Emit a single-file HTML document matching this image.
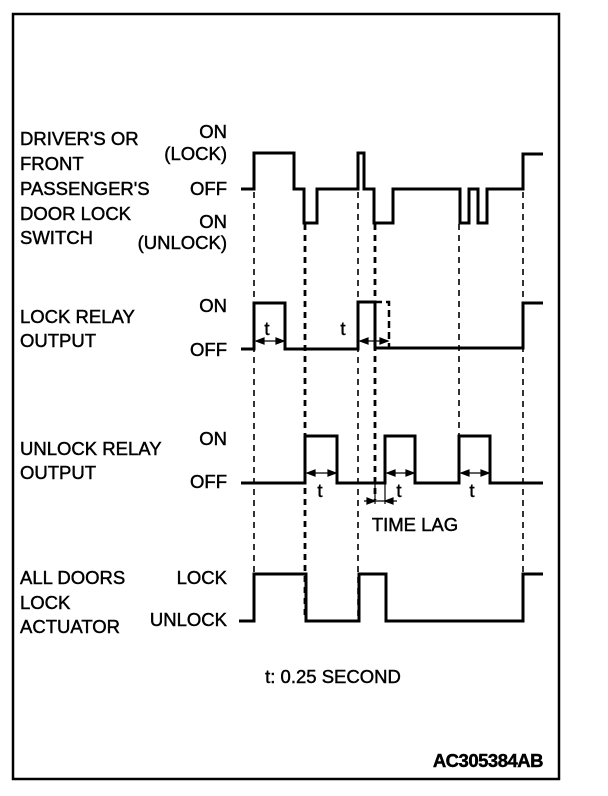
<!DOCTYPE html>
<html><head><meta charset="utf-8"><style>
html,body{margin:0;padding:0;background:#fff;}
svg{display:block;}
text{font-family:"Liberation Sans",sans-serif;font-size:18.5px;fill:#000;stroke:#000;stroke-width:0.45px;}
</style></head><body>
<svg width="608" height="796" viewBox="0 0 608 796" xmlns="http://www.w3.org/2000/svg">
<rect x="13" y="14" width="546" height="765" fill="none" stroke="#000" stroke-width="2.5"/>
<text x="20" y="145">DRIVER'S OR</text>
<text x="20" y="170">FRONT</text>
<text x="20" y="195">PASSENGER'S</text>
<text x="20" y="220">DOOR LOCK</text>
<text x="20" y="244">SWITCH</text>
<text x="20" y="323">LOCK RELAY</text>
<text x="20" y="347">OUTPUT</text>
<text x="20" y="455">UNLOCK RELAY</text>
<text x="20" y="479">OUTPUT</text>
<text x="20" y="584">ALL DOORS</text>
<text x="20" y="609">LOCK</text>
<text x="20" y="633">ACTUATOR</text>
<g text-anchor="end">
<text x="227" y="138">ON</text>
<text x="227" y="160">(LOCK)</text>
<text x="227" y="195">OFF</text>
<text x="227" y="228">ON</text>
<text x="227" y="249">(UNLOCK)</text>
<text x="227" y="312">ON</text>
<text x="227" y="356">OFF</text>
<text x="227" y="445">ON</text>
<text x="227" y="488">OFF</text>
<text x="227" y="584">LOCK</text>
<text x="227" y="626">UNLOCK</text>
</g>
<g stroke="#000" stroke-dasharray="6,5" fill="none">
<line x1="254" y1="192" x2="254" y2="620" stroke-width="1.6"/>
<line x1="305" y1="224" x2="305" y2="620" stroke-width="2.8"/>
<line x1="358" y1="192" x2="358" y2="620" stroke-width="1.6"/>
<line x1="375" y1="224" x2="375" y2="500" stroke-width="2.8"/>
<line x1="459" y1="224" x2="459" y2="440" stroke-width="1.6"/>
<line x1="523" y1="192" x2="523" y2="620" stroke-width="1.6"/>
</g>
<g stroke="#000" stroke-width="3" fill="none" stroke-linejoin="miter">
<polyline points="241,189 254,189 254,153 294,153 294,189 304,189 304,223 317,223 317,189 358,189 358,153 364,153 364,189 374,189 374,223 393,223 393,189 460,189 460,223 469,223 469,189 478,189 478,223 487,223 487,189 523,189 523,154 543,154"/>
<polyline points="241,349 254,349 254,303 285,303 285,349 358,349 358,302 375,302 375,348 523,348 523,303 543,303"/>
<polyline points="241,483 305,483 305,436 337,436 337,483 385,483 385,436 415,436 415,483 459,483 459,436 490,436 490,483 543,483"/>
<polyline points="239,621 254,621 254,574 306,574 306,621 359,621 359,574 386,574 386,621 523,621 523,574 543,574"/>
</g>
<g stroke="#000" stroke-width="2.5" stroke-dasharray="7,4" fill="none">
<polyline points="375,302 389,302 389,348"/>
</g>
<g stroke="#000" stroke-width="1.2" fill="#000">
<line x1="256" y1="341" x2="284" y2="341"/><polygon points="256,341 264,338 264,344"/><polygon points="284,341 276,338 276,344"/>
<line x1="360" y1="341" x2="388" y2="341"/><polygon points="360,341 368,338 368,344"/><polygon points="388,341 380,338 380,344"/>
<line x1="307" y1="473" x2="336" y2="473"/><polygon points="307,473 315,470 315,476"/><polygon points="336,473 328,470 328,476"/>
<line x1="387" y1="473" x2="414" y2="473"/><polygon points="387,473 395,470 395,476"/><polygon points="414,473 406,470 406,476"/>
<line x1="461" y1="473" x2="489" y2="473"/><polygon points="461,473 469,470 469,476"/><polygon points="489,473 481,470 481,476"/>
<line x1="364" y1="501" x2="397" y2="501"/><polygon points="375,501 367,498 367,504"/><polygon points="385,501 393,498 393,504"/>
<line x1="375" y1="484" x2="375" y2="504"/><line x1="385" y1="484" x2="385" y2="504"/>
</g>
<g text-anchor="middle">
<text x="267" y="335">t</text>
<text x="343" y="335">t</text>
<text x="320" y="497">t</text>
<text x="399" y="497">t</text>
<text x="472" y="497">t</text>
<text x="415" y="531">TIME LAG</text>
<text x="333" y="683">t: 0.25 SECOND</text>
</g>
<text x="543" y="767" text-anchor="end" style="font-weight:bold;letter-spacing:-0.5px">AC305384AB</text>
</svg>
</body></html>
